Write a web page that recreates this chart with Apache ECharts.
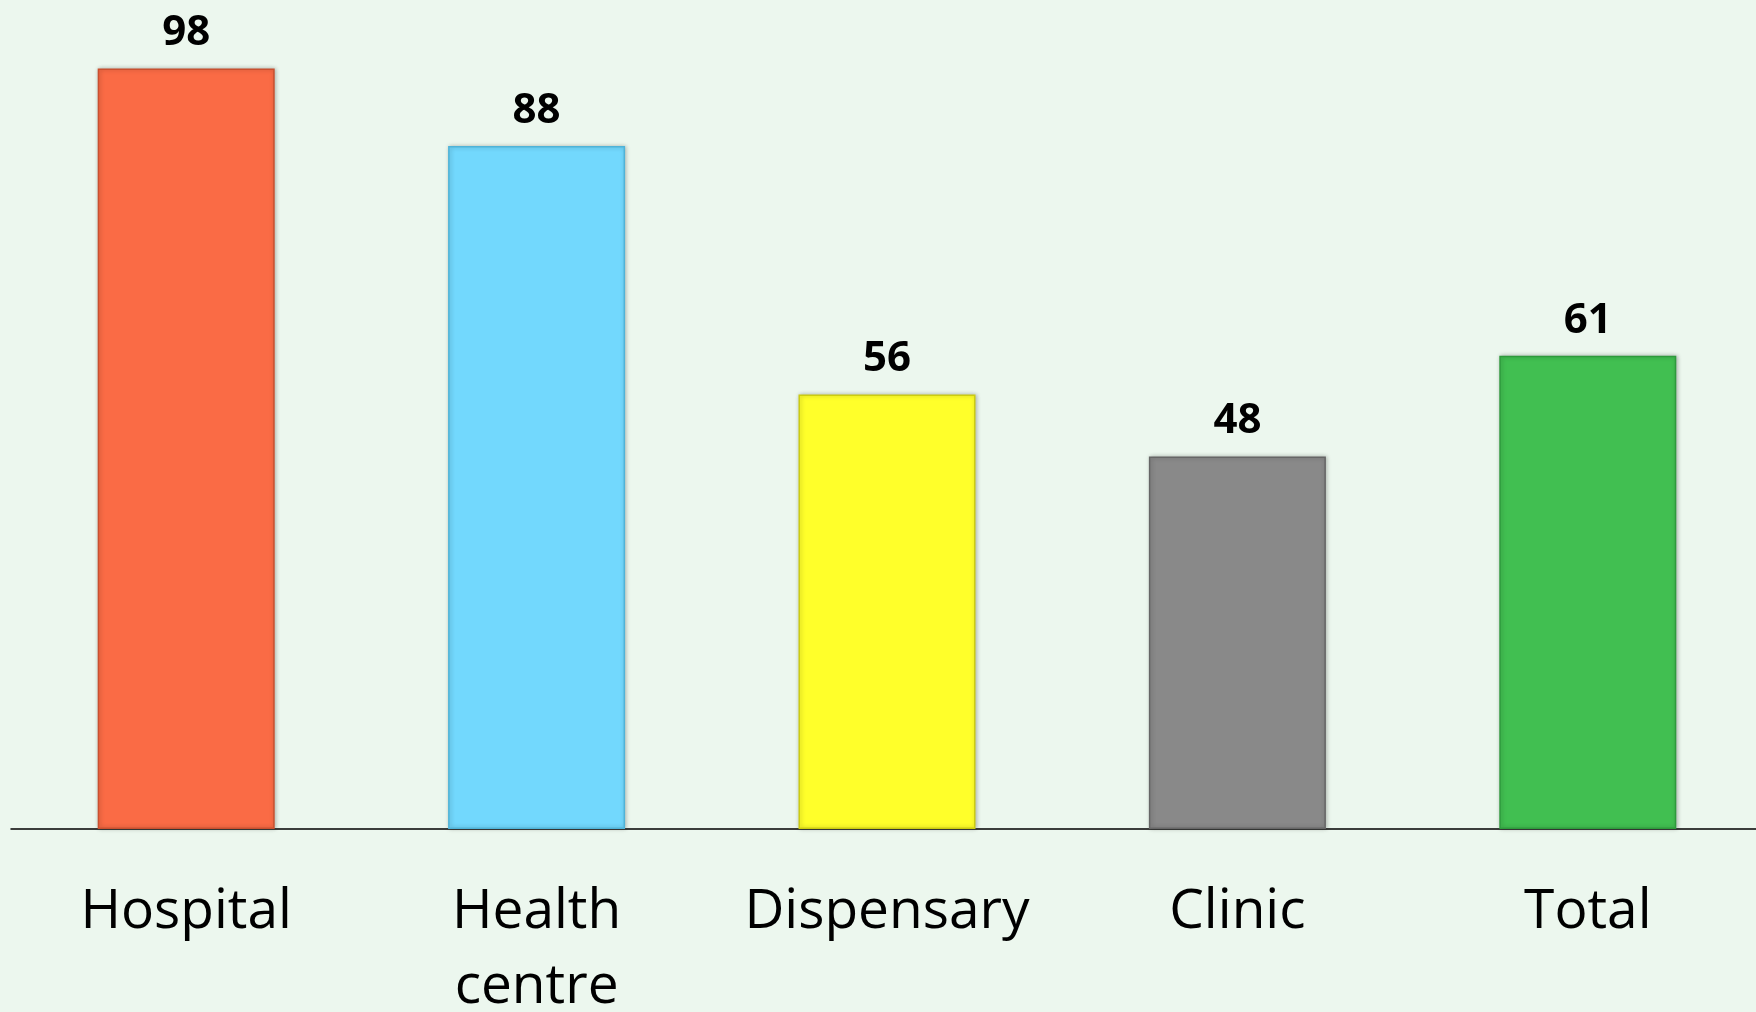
<!DOCTYPE html>
<html>
<head>
<meta charset="utf-8">
<script src="https://cdn.jsdelivr.net/npm/echarts@6/dist/echarts.min.js"></script>
<style>
  html, body { margin: 0; padding: 0; background: #ecf7ee; }
  #chart { width: 1756px; height: 1012px; }
</style>
</head>
<body>
<div id="chart"></div>
<script>
const categories = ['Hospital', 'Health\ncentre', 'Dispensary', 'Clinic', 'Total'];
const values = [98, 88, 56, 48, 61];
const barColors = ['#fa6b45', '#72d8fd', '#ffff2a', '#898989', '#41bf51'];
const edgeColors = ['#c9502f', '#4fb3d8', '#cccc10', '#666666', '#2e9a3c'];

const chart = echarts.init(document.getElementById('chart'));

chart.setOption({
  backgroundColor: '#ecf7ee',
  animation: false,
  grid: {
    left: 11,
    width: 1752,
    top: 53,
    bottom: 183,
    outerBoundsMode: 'none',
    containLabel: false,
  },
  xAxis: {
    type: 'category',
    data: categories,
    axisLine: { lineStyle: { color: '#000', width: 1.5 } },
    axisTick: { show: false },
    axisLabel: {
      interval: 0,
      color: '#000',
      fontFamily: 'Open Sans',
      fontSize: 55,
      lineHeight: 75,
      margin: 46,
    },
  },
  yAxis: {
    type: 'value',
    min: 0,
    max: 100,
    show: false,
    splitLine: { show: false },
  },
  series: [
    {
      type: 'bar',
      barWidth: 177,
      data: values.map((v, i) => ({
        value: v,
        itemStyle: {
          color: barColors[i],
          borderColor: edgeColors[i],
          borderWidth: 1.5,
          shadowColor: 'rgba(0,0,0,0.25)',
          shadowBlur: 4,
          shadowOffsetX: 1,
        },
      })),
      label: {
        show: true,
        position: 'top',
        distance: 14,
        color: '#000',
        fontFamily: 'Open Sans',
        fontWeight: 'bold',
        fontSize: 42,
      },
    },
  ],
});
</script>
</body>
</html>
